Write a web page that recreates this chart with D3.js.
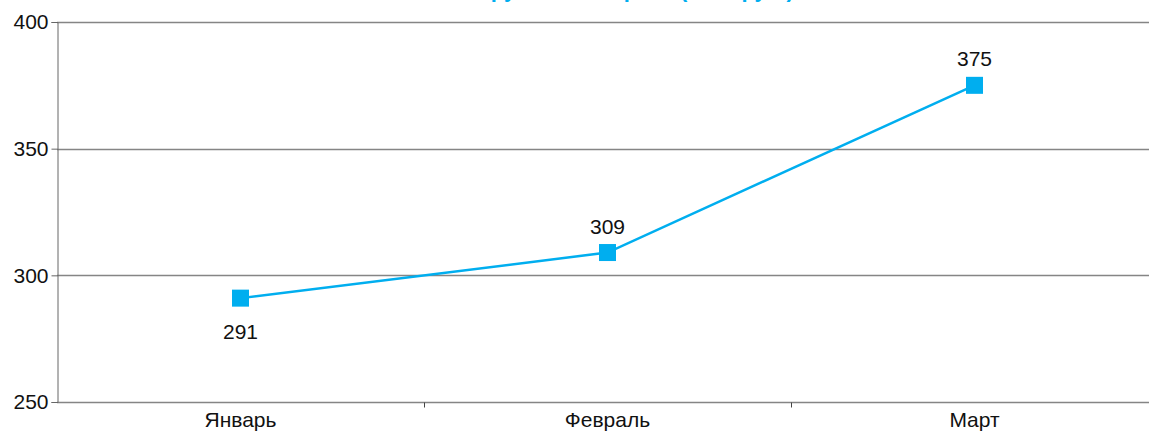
<!DOCTYPE html>
<html>
<head>
<meta charset="utf-8">
<script src="https://cdn.jsdelivr.net/npm/d3@7"></script>
<style>
  html, body { margin: 0; padding: 0; background: #fff; }
  svg { display: block; font-family: "Liberation Sans", Arial, Helvetica, sans-serif; }
</style>
</head>
<body>
<svg id="chart" width="1149" height="432"></svg>
<script>
// Monthly values
const months = ["Январь", "Февраль", "Март"];
const values = [291, 309, 375];
const labelSide = ["below", "above", "above"];
const yTicks = [250, 300, 350, 400];
const title = "Выручка за квартал (тыс. руб.)";

const width = 1149, height = 432;
const margin = { top: 22, right: -9, bottom: 30, left: 57 };
const svg = d3.select("#chart");
const color = "#00aeef";
const fontSize = 21;

const x = d3.scaleBand()
  .domain(months)
  .range([margin.left, width - margin.right])
  .paddingInner(0).paddingOuter(0);

const y = d3.scaleLinear()
  .domain([250, 400])
  .range([height - margin.bottom, margin.top]);

// Title (sits at the very top edge)
svg.append("text")
  .attr("x", 625)
  .attr("y", -3)
  .attr("text-anchor", "middle")
  .attr("font-size", 22)
  .attr("font-weight", "bold")
  .attr("fill", color)
  .text(title);

// Horizontal gridlines
svg.append("g")
  .selectAll("line")
  .data(yTicks)
  .join("line")
  .attr("x1", margin.left)
  .attr("x2", width)
  .attr("y1", d => Math.round(y(d)) + 0.5)
  .attr("y2", d => Math.round(y(d)) + 0.5)
  .attr("stroke", "#858585")
  .attr("stroke-width", 1.5);

// Y axis
const yAxis = svg.append("g")
  .attr("transform", `translate(${margin.left + 0.5},0)`)
  .call(d3.axisLeft(y).tickValues(yTicks).tickSize(6).tickPadding(3).tickFormat(d3.format("d")));
yAxis.select(".domain").attr("stroke", "#666").attr("stroke-width", 1);
yAxis.selectAll(".tick line").attr("stroke", "#666");
yAxis.selectAll(".tick text")
  .attr("font-size", fontSize)
  .attr("fill", "#111")
  .attr("font-family", "'Liberation Sans', Arial, sans-serif");

// X axis (category boundaries as ticks)
const xAxisY = Math.round(y(250)) + 0.5;
const boundaries = months.slice(1).map(m => x(m));
svg.append("g")
  .selectAll("line")
  .data(boundaries)
  .join("line")
  .attr("x1", d => Math.round(d) + 0.5)
  .attr("x2", d => Math.round(d) + 0.5)
  .attr("y1", xAxisY)
  .attr("y2", xAxisY + 5)
  .attr("stroke", "#444");

svg.append("g")
  .selectAll("text")
  .data(months)
  .join("text")
  .attr("x", d => x(d) + x.bandwidth() / 2)
  .attr("y", 427)
  .attr("text-anchor", "middle")
  .attr("font-size", fontSize)
  .attr("fill", "#111")
  .text(d => d);

// Line
const points = months.map((m, i) => ({ m, v: values[i], side: labelSide[i] }));
const line = d3.line()
  .x(d => x(d.m) + x.bandwidth() / 2)
  .y(d => y(d.v));

svg.append("path")
  .datum(points)
  .attr("d", line)
  .attr("fill", "none")
  .attr("stroke", color)
  .attr("stroke-width", 2.5);

// Square markers
const ms = 17;
svg.append("g")
  .selectAll("rect")
  .data(points)
  .join("rect")
  .attr("x", d => x(d.m) + x.bandwidth() / 2 - ms / 2)
  .attr("y", d => y(d.v) - ms / 2)
  .attr("width", ms)
  .attr("height", ms)
  .attr("fill", color);

// Value labels
svg.append("g")
  .selectAll("text")
  .data(points)
  .join("text")
  .attr("x", d => x(d.m) + x.bandwidth() / 2)
  .attr("y", d => d.side === "above" ? y(d.v) - 19 : y(d.v) + 41)
  .attr("text-anchor", "middle")
  .attr("font-size", fontSize)
  .attr("fill", "#111")
  .text(d => d.v);
</script>
</body>
</html>
